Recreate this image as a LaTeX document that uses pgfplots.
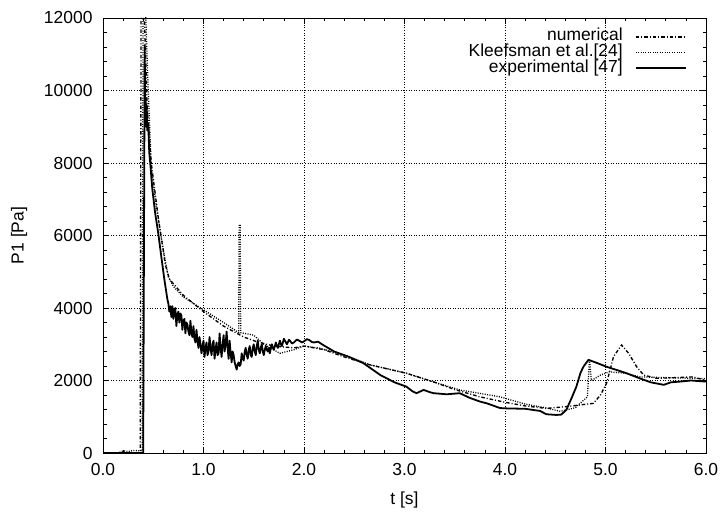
\documentclass[border=0pt]{standalone}
\usepackage{pgfplots}
\pgfplotsset{compat=1.18}
\usepackage{fontspec}
\setmainfont{Liberation Sans}
\newcommand{\bigf}{\fontsize{17.5}{20}\selectfont}
\begin{document}
\begin{tikzpicture}
\begin{axis}[
  name=ax,
  scale only axis,
  width=603bp, height=435bp,
  xmin=0, xmax=6, ymin=0, ymax=12000,
  xtick={0,1,2,3,4,5,6},
  ytick={0,2000,4000,6000,8000,10000,12000},
  minor x tick num=4, minor y tick num=4,
  tick align=inside, tick pos=both,
  major tick length=6bp, minor tick length=3.5bp,
  grid=major,
  major grid style={black, line width=0.5pt, dash pattern=on 0.8pt off 1.8pt},
  axis line style={line width=0.9pt},
  every tick/.style={black, line width=0.7pt},
  /pgf/number format/assume math mode=true,
  scaled y ticks=false,
  tick label style={font=\bigf},
  yticklabel style={/pgf/number format/1000 sep={}, xshift=-7bp},
  xticklabel style={/pgf/number format/fixed, /pgf/number format/fixed zerofill, /pgf/number format/precision=1, yshift=-7bp},
  xlabel={t [s]}, ylabel={P1 [Pa]},
  every axis x label/.style={at={(axis description cs:0.5,-0.108)}, anchor=center, font=\bigf},
  every axis y label/.style={at={(axis description cs:-0.139,0.5)}, rotate=90, anchor=center, font=\bigf},
  legend cell align=right,
  legend plot pos=right,
  legend style={draw=none, fill=none, at={(axis description cs:0.9685,0.975)}, anchor=north east,
    font=\bigf, row sep=0pt, column sep=12bp, inner sep=0pt,
    nodes={text height=11.5bp, text depth=3.5bp, inner sep=0.3bp}},
  legend image code/.code={\draw[#1] (0bp,0bp) -- (50bp,0bp);},
]
% numerical
\addplot[black, line width=1.35pt, dash pattern=on 3.5pt off 2pt on 1pt off 2pt] coordinates {
(0,0) (0.37,0) (0.38,13500) (0.41,12200) (0.44,9500) (0.48,8000) (0.55,6500) (0.62,5200)
(0.66,4800) (0.8,4350) (1.0,3900) (1.2,3500) (1.4,3200) (1.53,3070) (1.7,2950) (1.9,2900)
(2.0,2950) (2.2,2850) (2.4,2650) (2.66,2430) (3.02,2200) (3.3,1950) (3.5,1750) (3.75,1550)
(4.0,1400) (4.2,1300) (4.41,1230) (4.61,1280) (4.88,1370) (4.95,1600) (5.01,1920)
(5.08,2660) (5.16,2980) (5.23,2750) (5.31,2380) (5.38,2150) (5.51,2060) (5.7,2080)
(5.87,2100) (6.0,2000)
};
\addlegendentry{numerical}
% Kleefsman
\addplot[black, line width=1.3pt, dash pattern=on 1pt off 1.4pt] coordinates {
(0,0) (0.15,0) (0.2,60) (0.25,40) (0.3,70) (0.39,60) (0.40,14000) (0.42,12500) (0.45,10000)
(0.48,7900) (0.53,6800) (0.60,5600) (0.65,4860) (0.7,4600) (0.8,4300) (1.0,3950) (1.2,3600)
(1.35,3320) (1.355,6300) (1.365,6300) (1.37,3320) (1.5,3250) (1.6,3000) (1.76,2750) (1.9,2850)
(2.0,2950) (2.16,2890) (2.4,2700) (2.66,2430) (3.02,2200) (3.3,1950) (3.55,1740) (3.95,1550)
(4.2,1350) (4.4,1250) (4.55,1150) (4.7,1250) (4.82,1550) (4.84,2570) (4.86,2000) (4.95,2150)
(5.04,2240) (5.2,2200) (5.34,2100) (5.6,2080) (6.0,2050)
};
\addlegendentry{Kleefsman et al.[24]}
% experimental
\addplot[black, line width=1.8pt, line join=round] coordinates {
(0,0) (0.40,0) (0.415,11250) (0.42,9200) (0.425,9800) (0.43,9000) (0.435,9600) (0.44,8900)
(0.45,9100) (0.46,8300) (0.47,8000) (0.49,7300) (0.52,6600) (0.55,6060) (0.58,5420)
(0.61,4800) (0.64,4250) (0.65,4130)
(0.66,3900) (0.67,4050) (0.68,3750) (0.69,4050) (0.70,3700) (0.71,3950) (0.72,4000) (0.73,3500)
(0.74,3800) (0.75,3900) (0.76,3600) (0.77,3850) (0.78,3800) (0.79,3400) (0.80,3650)
(0.81,3700) (0.82,3300) (0.83,3600) (0.84,3550) (0.85,3350) (0.86,3250) (0.87,3650)
(0.88,3300) (0.89,3200) (0.90,3500) (0.91,3150) (0.92,3050) (0.93,3400) (0.94,3100)
(0.95,2900) (0.96,3200) (0.97,3000) (0.98,2750) (0.99,2950)
(1.00,3100) (1.01,2650) (1.02,2900) (1.03,3050) (1.04,2700) (1.05,2800) (1.06,3200)
(1.07,2900) (1.08,2700) (1.09,3000) (1.10,3100) (1.11,2600) (1.12,2850) (1.13,3050)
(1.14,2700) (1.15,2750) (1.16,3300) (1.17,2900) (1.18,2650) (1.19,3000) (1.20,3250)
(1.21,2800) (1.22,3000) (1.23,3350) (1.24,2900) (1.25,2600) (1.26,3100) (1.27,2750)
(1.28,2500) (1.29,2800) (1.30,2700) (1.31,2500) (1.32,2400) (1.33,2300) (1.34,2450)
(1.35,2500) (1.36,2400) (1.37,2450) (1.38,2750) (1.39,2600) (1.40,2550) (1.41,2800)
(1.42,2900) (1.43,2700) (1.44,2600) (1.45,2850) (1.46,2950) (1.47,2700) (1.48,2650)
(1.49,2900) (1.50,3000) (1.51,2800) (1.52,2700) (1.53,2950) (1.54,3100) (1.55,2850)
(1.56,2750) (1.57,2900) (1.58,3000) (1.59,2800) (1.60,2700) (1.61,2850) (1.62,2950)
(1.63,2850) (1.64,2800) (1.65,2900) (1.66,2750) (1.67,2900) (1.68,3000) (1.69,2900)
(1.70,2850) (1.71,2950) (1.72,3050) (1.73,2950) (1.74,2900) (1.75,3000) (1.76,3100)
(1.77,3000) (1.78,2950) (1.80,3150) (1.82,3050) (1.83,3000) (1.85,3120) (1.86,3100)
(1.88,3020) (1.90,3050) (1.93,3130) (1.95,3100) (1.98,3050)
(2.00,3080) (2.03,3140) (2.05,3120) (2.08,3060) (2.10,3050) (2.14,3070) (2.19,2980)
(2.3,2800) (2.45,2650) (2.59,2480) (2.76,2150) (2.9,1950) (3.02,1830) (3.08,1700)
(3.12,1650) (3.19,1740) (3.25,1680) (3.29,1650) (3.42,1620) (3.55,1650) (3.65,1520)
(3.75,1420) (3.82,1370) (3.95,1240) (4.02,1230) (4.2,1220) (4.35,1160) (4.41,1070)
(4.51,1050) (4.56,1060) (4.61,1190) (4.66,1500) (4.71,1830) (4.75,2200) (4.78,2380)
(4.83,2570) (4.9,2500) (5.01,2380) (5.1,2300) (5.21,2200) (5.34,2060) (5.45,1950)
(5.58,1880) (5.65,1950) (5.74,1970) (5.85,2000) (6.0,1970)
};
\addlegendentry{experimental [47]}
\end{axis}
\path ([shift={(-103bp,-60bp)}]ax.south west) rectangle ([shift={(17bp,18bp)}]ax.north east);
\end{tikzpicture}
\end{document}
